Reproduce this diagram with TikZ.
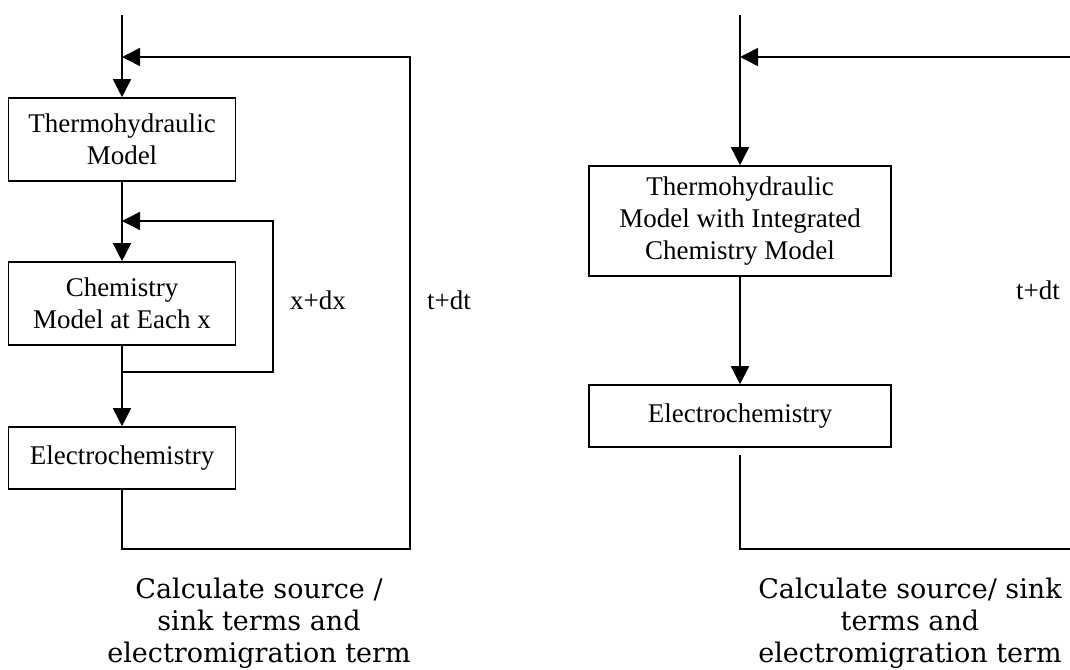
\documentclass[tikz,border=0pt]{standalone}
\usepackage{fontspec}
\setmainfont{Liberation Serif}
\newfontfamily\capfont{DejaVu Serif}
\usetikzlibrary{arrows.meta}
\usetikzlibrary{positioning}
\usetikzlibrary{calc}

\begin{document}
\begin{tikzpicture}[x=0.5pt,y=-0.5pt]
		\tikzset{block/.style = {shape=rectangle,draw,line width=0.8pt,inner sep=0pt,align=center,font=\fontsize{13.5}{16}\selectfont}}
		\tikzset{edge/.style = {->,> = {Triangle[length=9pt,width=9pt]},line width=0.8pt}}
		\tikzset{caption/.style = {align=center,font=\capfont\fontsize{13.5}{16}\selectfont}}
		\tikzset{lbl/.style = {font=\fontsize{13.5}{16}\selectfont}}
		\useasboundingbox (0,0) rectangle (1070,669);
		% left: separate models
		\node[block, minimum width=113.5pt, minimum height=41.5pt] (thermoL) at (122,139.5) {Thermohydraulic\\Model};
		\node[block, minimum width=113.5pt, minimum height=41.5pt] (chemL) at (122,303.5) {Chemistry\\Model at Each x};
		\node[block, minimum width=113.5pt, minimum height=31pt] (electroL) at (122,458) {Electrochemistry};
		
		\coordinate (startL) at (122,15);
		\coordinate (joinL) at (122,57);
		\coordinate (joinX) at (122,221);
		\coordinate (splitX) at (122,372);
		\coordinate (turnX) at (273,221);
		\coordinate (turnT) at (410,549);
		
		\node[lbl] (dxL) at (318,300) {x+dx};
		\node[lbl] (dtL) at (449,300) {t+dt};
		\node[caption] (capL) at (259,623) {Calculate source /\\sink terms and\\electromigration term};
		
		%edges
		\draw[edge] (startL) -- (thermoL);
		\draw[edge] (thermoL) -- (chemL);
		\draw[edge] (chemL) -- (electroL);
		\draw[edge] (splitX) -| (turnX) -- (joinX);
		\draw[edge] (electroL) |- (turnT) |- (joinL);
		
		% right: integrated model
		\node[block, minimum width=151pt, minimum height=55pt] (thermoR) at (740,221) {Thermohydraulic\\Model with Integrated\\Chemistry Model};
		\node[block, minimum width=151pt, minimum height=31pt] (electroR) at (740,416) {Electrochemistry};
		
		\coordinate (startR) at (740,15);
		\coordinate (joinR) at (740,57);
		\coordinate (turnR) at (1090,549);
		
		\node[lbl] (dtR) at (1038,290) {t+dt};
		\node[caption] (capR) at (910,623) {Calculate source/ sink\\terms and\\electromigration term};
		
		%edges
		\draw[edge] (startR) -- (thermoR);
		\draw[edge] (thermoR) -- (electroR);
		\draw[edge, shorten <=3.5pt] (electroR) |- (turnR) |- (joinR);
\end{tikzpicture}
\end{document}
